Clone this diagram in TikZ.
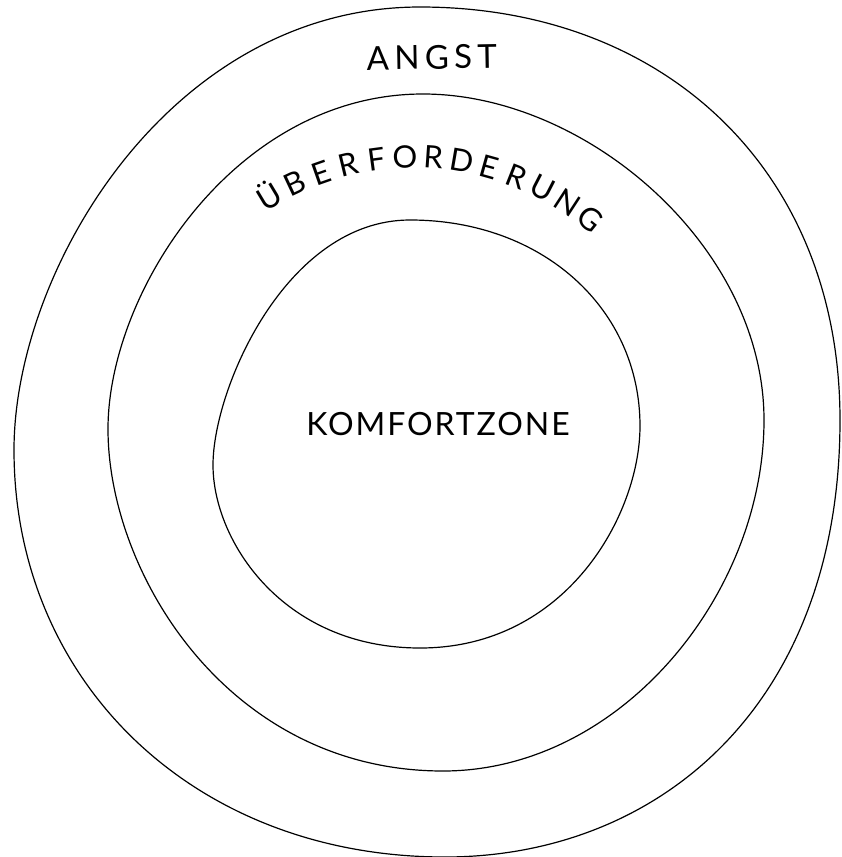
\documentclass[tikz,border=0pt]{standalone}
\usepackage{fontspec}
\setmainfont{Lato}
\usetikzlibrary{calc}
\begin{document}
\begin{tikzpicture}[x=1pt,y=-1pt,
  ring/.style={draw=black, line width=1.2pt},
  zlabel/.style={inner sep=0pt, anchor=base},
  arclabel/.style={inner sep=0pt, anchor=base, font=\fontsize{31}{34}\selectfont}]
\useasboundingbox (0,0) rectangle (841,857);
% outer ring
\draw[ring] (420,7) .. controls (665,7) and (840,171) .. (840,420)
  .. controls (840,707) and (657,857) .. (445,857)
  .. controls (193,857) and (14,681) .. (14,450)
  .. controls (14,270) and (170,7) .. (420,7) -- cycle;
% middle ring
\draw[ring] (423,94) .. controls (587,94) and (764,247) .. (764,420)
  .. controls (764,595) and (620,771) .. (443,771)
  .. controls (228,771) and (108,573) .. (108,429)
  .. controls (108,292) and (235,94) .. (423,94) -- cycle;
% inner ring
\draw[ring] (410,220) .. controls (543,220) and (640,309) .. (640,426)
  .. controls (640,514) and (567,648) .. (420,648)
  .. controls (283,648) and (213,541) .. (213,465)
  .. controls (213,389) and (286,220) .. (410,220) -- cycle;
% labels
\node[zlabel, font=\fontsize{32}{36}\selectfont\addfontfeature{LetterSpace=6}] (komfort) at (438,435) {KOMFORTZONE};
\node[zlabel, font=\fontsize{33}{36}\selectfont\addfontfeature{LetterSpace=16}, rotate=1] (angst) at (432,69) {ANGST};
\coordinate (c) at (414,437);
\foreach \l [count=\i from 0] in {Ü,B,E,R,F,O,R,D,E,R,U,N,G} {
  \pgfmathsetmacro{\a}{239+5.83*\i}
  \node[arclabel, rotate={-\a-90}] (ub\i) at ($(c)+(\a:269)$) {\l};
}
\end{tikzpicture}
\end{document}
